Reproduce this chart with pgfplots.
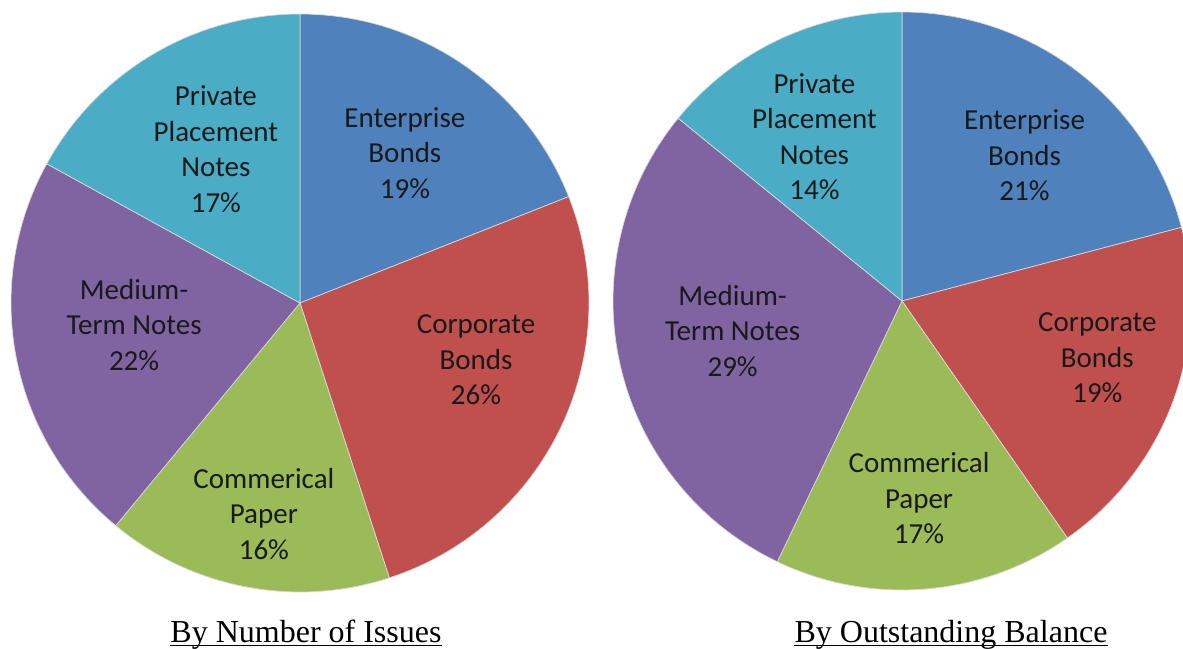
\documentclass[border=0pt]{standalone}
\usepackage{pgfplots}
\usepackage{pgfplotstable}
\pgfplotsset{compat=1.18}
\usepackage{fontspec}
\setmainfont{Liberation Serif}
\newfontfamily\calibri{Carlito}
\definecolor{cEnt}{HTML}{4F81BD}
\definecolor{cCor}{HTML}{C0504D}
\definecolor{cCom}{HTML}{9BBB59}
\definecolor{cMed}{HTML}{8064A2}
\definecolor{cPri}{HTML}{4BACC6}
\newlength{\px}\setlength{\px}{0.5pt}

\pgfplotstableread{
name val col
Enterprise 19 cEnt
Corporate 26 cCor
Commercial 16 cCom
Medium 22 cMed
Private 17 cPri
}\issues
\pgfplotstableread{
name val col
Enterprise 20.9 cEnt
Corporate 19.4 cCor
Commercial 16.8 cCom
Medium 28.8 cMed
Private 14.1 cPri
}\balance

\newcommand\drawpie[1]{%
  \def\cum{0}%
  \pgfplotsforeachungrouped \i in {0,...,4}{%
    \pgfplotstablegetelem{\i}{val}\of#1\let\sliceval\pgfplotsretval
    \pgfplotstablegetelem{\i}{col}\of#1\let\slicecol\pgfplotsretval
    \pgfmathsetmacro\angA{90-3.6*\cum}%
    \pgfmathsetmacro\angB{90-3.6*(\cum+\sliceval)}%
    \pgfmathsetmacro\cum{\cum+\sliceval}%
    \edef\temp{\noexpand\fill[\slicecol, draw=white!85!black, line width=0.35pt] (axis cs:0,0) -- (axis cs:{cos(\angA)},{sin(\angA)}) arc[start angle=\angA, end angle=\angB, radius=1] -- cycle;}%
    \temp
  }%
}

\pgfplotsset{pieaxis/.style={hide axis, x=289\px, y=289\px, xmin=-1, xmax=1, ymin=-1, ymax=1,
  anchor=center, disabledatascaling, clip=false}}
\tikzset{lab/.style={align=center, font=\calibri\fontsize{14.5}{17.75}\selectfont, text=black!90, inner sep=0pt}}

\begin{document}
\begin{tikzpicture}
\useasboundingbox (0,0) rectangle (1183\px,648\px);
\begin{axis}[pieaxis, at={(300\px,345\px)}]
\drawpie{\issues}
\node[lab] at (axis cs:0.363,0.519) {Enterprise\\Bonds\\19\%};
\node[lab] at (axis cs:0.609,-0.197) {Corporate\\Bonds\\26\%};
\node[lab] at (axis cs:-0.125,-0.730) {Commerical\\Paper\\16\%};
\node[lab] at (axis cs:-0.574,-0.076) {Medium-\\Term Notes\\22\%};
\node[lab] at (axis cs:-0.291,0.533) {Private\\Placement\\Notes\\17\%};
\end{axis}
\begin{axis}[pieaxis, at={(902\px,347\px)}]
\drawpie{\balance}
\node[lab] at (axis cs:0.424,0.503) {Enterprise\\Bonds\\21\%};
\node[lab] at (axis cs:0.676,-0.197) {Corporate\\Bonds\\19\%};
\node[lab] at (axis cs:0.059,-0.683) {Commerical\\Paper\\17\%};
\node[lab] at (axis cs:-0.586,-0.103) {Medium-\\Term Notes\\29\%};
\node[lab] at (axis cs:-0.303,0.569) {Private\\Placement\\Notes\\14\%};
\end{axis}
\node[anchor=base, inner sep=0pt, font=\fontsize{16}{19}\selectfont] (c1) at (306\px,6\px) {By Number of Issues};
\draw[line width=1.3\px] ([yshift=-3.5\px]c1.base west) -- ([yshift=-3.5\px]c1.base east);
\node[anchor=base, inner sep=0pt, font=\fontsize{16}{19}\selectfont] (c2) at (951\px,6\px) {By Outstanding Balance};
\draw[line width=1.3\px] ([yshift=-3.5\px]c2.base west) -- ([yshift=-3.5\px]c2.base east);
\end{tikzpicture}
\end{document}
